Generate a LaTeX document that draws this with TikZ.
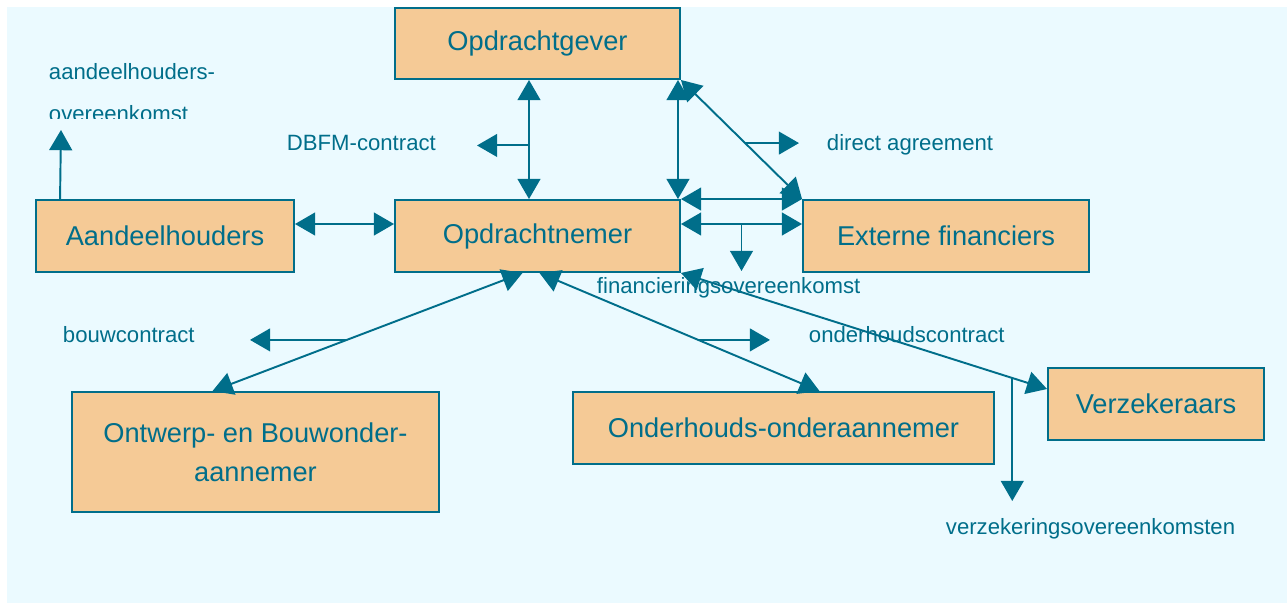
\documentclass[tikz,border=0pt]{standalone}
\usepackage{fontspec}
\setmainfont{Liberation Sans}
\usepackage{tikz}
\usetikzlibrary{arrows.meta,calc}
\definecolor{bgcyan}{HTML}{EBFAFF}
\definecolor{peach}{HTML}{F5CA96}
\definecolor{petrol}{HTML}{006E8A}
\newcommand\boxfont{\fontsize{15.5}{22}\selectfont}
\newcommand\labfont{\fontsize{12.6}{24}\selectfont}

\begin{document}
\begin{tikzpicture}[x=0.02cm,y=-0.02cm,line width=1.1pt,
  box/.style 2 args={draw=petrol,fill=peach,text=petrol,font=\boxfont,align=center,inner sep=0pt,minimum width=#1*0.02cm,minimum height=#2*0.02cm},
  lab/.style={text=petrol,font=\labfont,inner sep=0pt},
  link/.style={petrol,{Triangle[length=11.5pt,width=13pt]}-{Triangle[length=11.5pt,width=13pt]}},
  one/.style={petrol,-{Triangle[length=11.5pt,width=13pt]}}]
\useasboundingbox (0,0) rectangle (1287,603);
\fill[bgcyan] (7,7) rectangle (1287,603);
% parties
\node[box={285}{71}] (geber) at (537.5,43.5) {Opdrachtgever};
\node[box={285}{72}] (nemer) at (537.5,236) {Opdrachtnemer};
\node[box={258}{72}] (aandeel) at (165,236) {Aandeelhouders};
\node[box={286}{72}] (extern) at (946,236) {Externe financiers};
\node[box={216}{72}] (verzek) at (1156,404) {Verzekeraars};
\node[box={421}{72}] (onderh) at (783.5,428) {Onderhouds-onderaannemer};
\node[box={367}{120}] (ontwerp) at (255.5,452) {Ontwerp- en Bouwonder-\\aannemer};
% contract labels
\foreach \n/\x/\y/\t in {dbfm/286/150/DBFM-contract,direct/826/150/direct agreement,fin/596/293/financieringsovereenkomst,bouw/62/342/bouwcontract,onderhc/808/342/onderhoudscontract,verzc/945/534/verzekeringsovereenkomsten}
  {\node[lab,anchor=base west] (\n) at (\x,\y) {\t};}
\begin{scope}
\clip (0,0) rectangle (300,118);
\node[lab,anchor=north west,align=left] (aov) at (48,62) {aandeelhouders-\\overeenkomst};
\end{scope}
% free arrow ends
\coordinate (aovtip) at (61,130); \coordinate (dbfmtip) at (477,0); \coordinate (directtip) at (799,0);
\coordinate (fintip) at (0,271); \coordinate (bouwtip) at (250,0); \coordinate (ondtip) at (770,0);
\coordinate (verztip) at (0,501);
% relations
\draw[one] ($(aandeel.north west)+(25,0)$) -- (aovtip);
\draw[link] ($(aandeel.east)+(0,-12)$) -- ($(nemer.west)+(0,-12)$);
\draw[link] ($(geber.south)+(-8.5,0)$) -- coordinate[pos=0.55] (dbfmfork) ($(nemer.north)+(-8.5,0)$);
\draw[one] (dbfmfork) -- (dbfmfork -| dbfmtip);
\draw[link] ($(geber.south east)+(-3,0)$) -- ($(nemer.north east)+(-3,0)$);
\draw[link] (geber.south east) -- coordinate[pos=0.53] (directfork) (extern.north west);
\draw[one] (directfork) -- (directfork -| directtip);
\draw[link] (nemer.north east) -- (extern.north west);
\draw[link] ($(nemer.east)+(0,-12)$) -- coordinate[pos=0.5] (finfork) ($(extern.west)+(0,-12)$);
\draw[one] (finfork) -- (finfork |- fintip);
\draw[link] ($(nemer.south)+(-15,0)$) -- coordinate[pos=0.567] (bouwfork) ($(ontwerp.north)+(-43,0)$);
\draw[one] (bouwfork) -- (bouwfork -| bouwtip);
\draw[link] ($(nemer.south)+(2,0)$) -- coordinate[pos=0.567] (ondfork) ($(onderh.north)+(36,0)$);
\draw[one] (ondfork) -- (ondfork -| ondtip);
\draw[link] (nemer.south east) -- coordinate[pos=0.905] (verzfork) ($(verzek.west)+(0,-15)$);
\draw[one] (verzfork) -- (verzfork |- verztip);
\end{tikzpicture}
\end{document}
